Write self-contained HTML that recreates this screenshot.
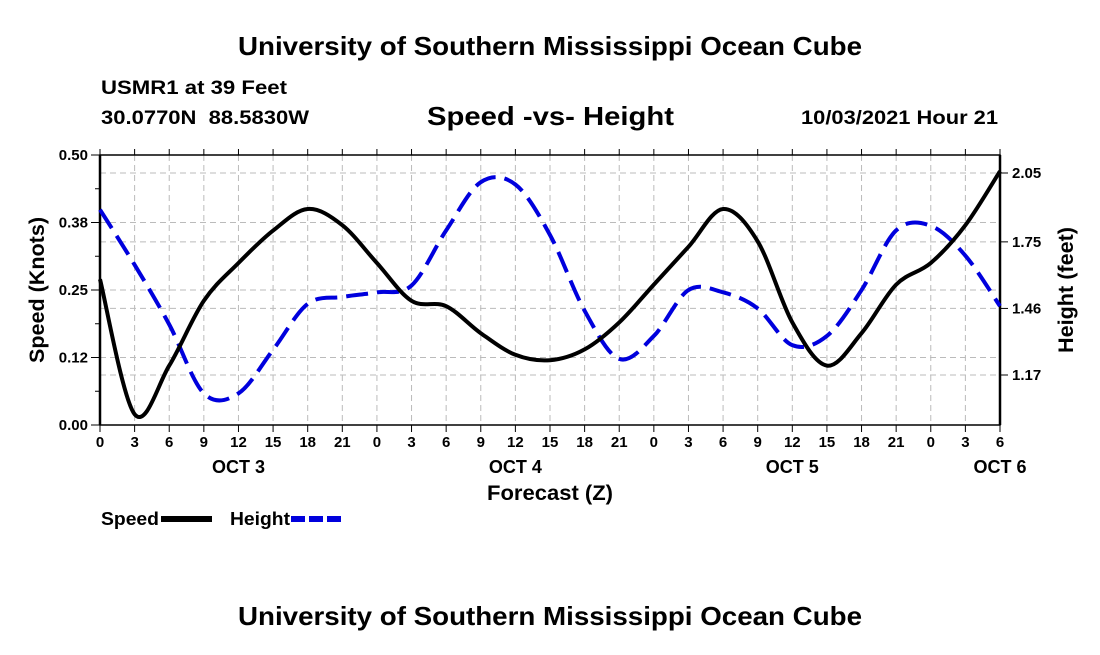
<!DOCTYPE html>
<html><head><meta charset="utf-8"><style>
body{margin:0;background:#fff;width:1100px;height:650px;overflow:hidden}
svg text{font-family:"Liberation Sans",Arial,sans-serif;font-weight:bold;fill:#000}
</style></head><body>
<svg id="chart" width="1100" height="650" xmlns="http://www.w3.org/2000/svg">
<text x="238" y="55" font-size="26" textLength="624" lengthAdjust="spacingAndGlyphs">University of Southern Mississippi Ocean Cube</text>
<text x="101" y="94" font-size="19" textLength="186" lengthAdjust="spacingAndGlyphs">USMR1 at 39 Feet</text>
<text x="101" y="124" font-size="19" textLength="208" lengthAdjust="spacingAndGlyphs" xml:space="preserve">30.0770N  88.5830W</text>
<text x="427" y="125" font-size="26" textLength="247" lengthAdjust="spacingAndGlyphs">Speed -vs- Height</text>
<text x="801" y="124" font-size="19" textLength="197" lengthAdjust="spacingAndGlyphs">10/03/2021 Hour 21</text>
<text x="238" y="625" font-size="26" textLength="624" lengthAdjust="spacingAndGlyphs">University of Southern Mississippi Ocean Cube</text>
<g id="grid"></g><g id="axes"></g><g id="series"></g>
<text transform="translate(44,290) rotate(-90)" font-size="21" text-anchor="middle" textLength="146" lengthAdjust="spacingAndGlyphs">Speed (Knots)</text>
<text transform="translate(1073,290) rotate(-90)" font-size="21" text-anchor="middle" textLength="126" lengthAdjust="spacingAndGlyphs">Height (feet)</text>
<text x="550" y="500" font-size="21" text-anchor="middle" textLength="126" lengthAdjust="spacingAndGlyphs">Forecast (Z)</text>
<g>
<text x="101" y="525" font-size="18" textLength="58" lengthAdjust="spacingAndGlyphs">Speed</text>
<line x1="161" y1="519" x2="212" y2="519" stroke="#000" stroke-width="6"/>
<text x="230" y="525" font-size="18" textLength="60" lengthAdjust="spacingAndGlyphs">Height</text>
<line x1="291" y1="519" x2="342" y2="519" stroke="#0000dd" stroke-width="6" stroke-dasharray="14,4"/>
</g>
</svg>
<script>
const hours=[0,3,6,9,12,15,18,21,24,27,30,33,36,39,42,45,48,51,54,57,60,63,66,69,72,75,78];
const speed=[0.27,0.02,0.11,0.23,0.30,0.36,0.40,0.37,0.30,0.23,0.22,0.17,0.13,0.12,0.14,0.19,0.26,0.33,0.40,0.34,0.19,0.11,0.17,0.26,0.30,0.37,0.47];
const height=[1.89,1.65,1.39,1.09,1.09,1.28,1.48,1.51,1.53,1.56,1.80,2.01,2.00,1.78,1.45,1.24,1.34,1.54,1.53,1.46,1.30,1.34,1.54,1.80,1.82,1.69,1.47];
const speedTicks=[0,0.125,0.25,0.375,0.5];
const speedTickLabels=["0.00","0.12","0.25","0.38","0.50"];
const heightTicks=[1.17,1.46,1.75,2.05];
const dayLabels=["OCT 3","OCT 4","OCT 5","OCT 6"];
const dayLabelHours=[12,36,60,78];

const L=100,R=1000,T=155,B=425;
const x=h=>L+h/78*(R-L);
const yS=v=>B-v/0.5*(B-T);
const yH=v=>375-(v-1.17)/0.88*202;
const NS="http://www.w3.org/2000/svg";
function mk(tag,attrs,parent){const e=document.createElementNS(NS,tag);for(const k in attrs)e.setAttribute(k,attrs[k]);parent.appendChild(e);return e;}
const grid=document.getElementById('grid'),axes=document.getElementById('axes'),series=document.getElementById('series');
hours.forEach(h=>{const g=mk('line',{x1:x(h),x2:x(h),y1:T,y2:B,stroke:'#bbb','stroke-dasharray':'6,4'},grid);
});
speedTicks.forEach(v=>{const g=mk('line',{x1:L,x2:R,y1:yS(v),y2:yS(v),stroke:'#bbb','stroke-dasharray':'6,4'},grid);
});
heightTicks.forEach(v=>{const g=mk('line',{x1:L,x2:R,y1:yH(v),y2:yH(v),stroke:'#bbb','stroke-dasharray':'6,4'},grid);
});
const fr=mk('rect',{x:L,y:T,width:R-L,height:B-T,fill:'none',stroke:'#000','stroke-width':1.5},axes);

mk('line',{x1:L,x2:L,y1:T,y2:B,stroke:'#000','stroke-width':2.5},axes);
mk('line',{x1:R,x2:R,y1:T,y2:B,stroke:'#000','stroke-width':2.5},axes);
hours.forEach(h=>{mk('line',{x1:x(h),x2:x(h),y1:B,y2:B+7,stroke:'#000'},axes);mk('line',{x1:x(h),x2:x(h),y1:T,y2:T-6,stroke:'#000'},axes);
const t=mk('text',{x:x(h),y:B+22,'font-size':15,'text-anchor':'middle'},axes);t.textContent=String(h%24);
});
dayLabels.forEach((d,i)=>{const t=mk('text',{x:x(dayLabelHours[i]),y:B+48,'font-size':18,'text-anchor':'middle'},axes);t.textContent=d;
});
for(let v=0;v<=0.5001;v+=0.0625)mk('line',{x1:L-5,x2:L,y1:yS(v),y2:yS(v),stroke:'#000'},axes);
speedTicks.forEach((v,i)=>{mk('line',{x1:L-9,x2:L,y1:yS(v),y2:yS(v),stroke:'#000'},axes);
const t=mk('text',{x:L-12,y:yS(v)+5,'font-size':15,'text-anchor':'end'},axes);t.textContent=speedTickLabels[i];
});
heightTicks.forEach(v=>{mk('line',{x1:R,x2:R+8,y1:yH(v),y2:yH(v),stroke:'#000'},axes);
const t=mk('text',{x:R+12,y:yH(v)+5,'font-size':15},axes);t.textContent=v.toFixed(2);
});
function path(pts){let d=`M${pts[0][0]},${pts[0][1]}`;for(let i=0;i<pts.length-1;i++){const p0=pts[Math.max(0,i-1)],p1=pts[i],p2=pts[i+1],p3=pts[Math.min(pts.length-1,i+2)];
d+=` C${p1[0]+(p2[0]-p0[0])/6},${p1[1]+(p2[1]-p0[1])/6} ${p2[0]-(p3[0]-p1[0])/6},${p2[1]-(p3[1]-p1[1])/6} ${p2[0]},${p2[1]}`;}return d;}
const hp=mk('path',{d:path(hours.map((h,i)=>[x(h),yH(height[i])])),fill:'none',stroke:'#0000dd','stroke-width':4,'stroke-dasharray':'22,9'},series);

const sp=mk('path',{d:path(hours.map((h,i)=>[x(h),yS(speed[i])])),fill:'none',stroke:'#000','stroke-width':4},series);

</script>
</body></html>
